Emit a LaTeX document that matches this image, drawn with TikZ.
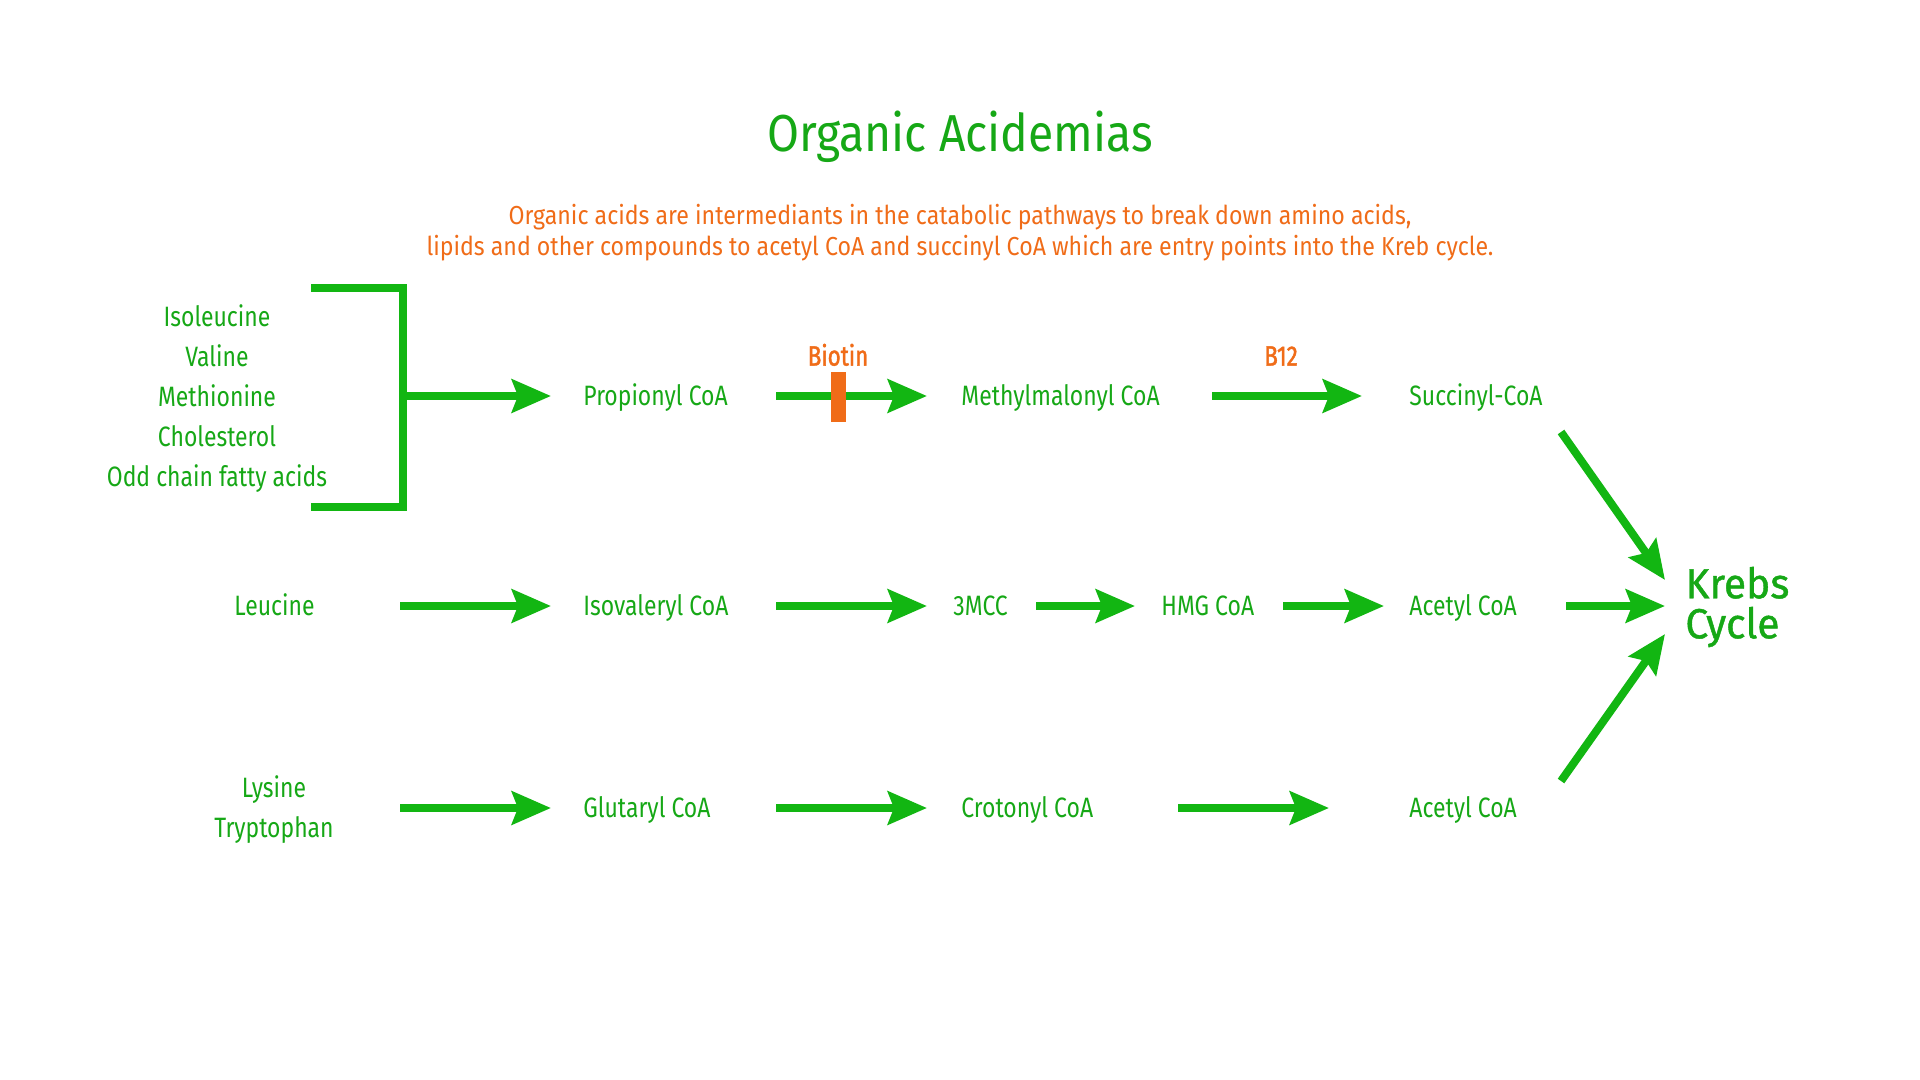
\documentclass[tikz,border=0pt]{standalone}
\usepackage{fontspec}
\setmainfont{Fira Sans}[FakeStretch=0.82]
\newfontfamily\headfont{Fira Sans}[FakeStretch=0.89]
\newfontfamily\krebsfont{Fira Sans}[FakeStretch=0.97,FakeBold=1]
\newfontfamily\vitfont{Fira Sans}[FakeStretch=0.8,FakeBold=1.5]
\usetikzlibrary{arrows.meta}
\definecolor{agreen}{RGB}{18,182,18}
\definecolor{tgreen}{RGB}{22,168,22}
\definecolor{aorange}{RGB}{240,108,24}
\begin{document}
\begin{tikzpicture}[x=0.5pt,y=-0.5pt,
  lbl/.style={font=\fontsize{14}{20}\selectfont, text=tgreen, inner sep=0pt, anchor=west, text height=9.6pt, text depth=0pt},
  multi/.style={font=\fontsize{14}{20}\selectfont, text=tgreen, inner sep=0pt, align=center},
  olbl/.style={font=\vitfont\fontsize{14}{20}\selectfont, text=aorange, inner sep=0pt, text height=9.6pt, text depth=0pt},
  arr/.style={draw=agreen, line width=4pt, -{Stealth[length=19.5pt,width=16.5pt,inset=3pt]}},
  bracketline/.style={draw=agreen, line width=4pt, miter limit=10},
]
\fill[white] (0,0) rectangle (1920,1080);
\useasboundingbox (0,0) rectangle (1920,1080);

% title and subtitle
\node[font=\headfont\fontsize{26}{30}\selectfont, text=tgreen, inner sep=0pt, text height=17.9pt, text depth=0pt] (title) at (960,134) {Organic Acidemias};
\node[font=\headfont\fontsize{13}{15.5}\selectfont, text=aorange, inner sep=0pt, align=center, anchor=base] (sub) at (960,256)
  {Organic acids are intermediants in the catabolic pathways to break down amino acids,\\
   lipids and other compounds to acetyl CoA and succinyl CoA which are entry points into the Kreb cycle.};

% sources
\node[multi] (src) at (217,399) {Isoleucine\\Valine\\Methionine\\Cholesterol\\Odd chain fatty acids};
\draw[bracketline] (311,288) -- (403,288) -- (403,507) -- (311,507);
\coordinate (bmid) at (403,396);

% row 1
\node[lbl] (prop) at (583,396) {Propionyl CoA};
\node[lbl] (methyl) at (961,396) {Methylmalonyl CoA};
\node[lbl] (succ) at (1409,396) {Succinyl-CoA};
\node[olbl] (biotin) at (838,356) {Biotin};
\node[olbl] (b12) at (1281,356) {B12};

% row 2
\node[lbl] (leu) at (234,606) {Leucine};
\node[lbl] (iso) at (583,606) {Isovaleryl CoA};
\node[lbl] (mcc) at (953,606) {3MCC};
\node[lbl] (hmg) at (1161,606) {HMG CoA};
\node[lbl] (acet1) at (1409,606) {Acetyl CoA};

% row 3
\node[multi] (lystry) at (274,810) {Lysine\\Tryptophan};
\node[lbl] (glut) at (583,808) {Glutaryl CoA};
\node[lbl] (crot) at (961,808) {Crotonyl CoA};
\node[lbl] (acet2) at (1409,808) {Acetyl CoA};

% Krebs
\node[font=\krebsfont\fontsize{21}{20}\selectfont, text=tgreen, inner sep=0pt, align=left, anchor=west] (krebs) at (1685,607) {Krebs\\Cycle};

% arrows row 1
\draw[arr] (bmid) -- ([xshift=-16pt]prop.west);
\draw[arr] ([xshift=96.5pt]prop.west) -- ([xshift=-17pt]methyl.west);
\node[fill=aorange, inner sep=0pt, minimum width=7.5pt, minimum height=25pt] (block) at (838,397) {};
\draw[arr] ([xshift=125.5pt]methyl.west) -- ([xshift=-23.5pt]succ.west);

% arrows row 2
\draw[arr] ([xshift=83pt]leu.west) -- ([xshift=-16pt]iso.west);
\draw[arr] ([xshift=96.5pt]iso.west) -- ([xshift=-13pt]mcc.west);
\draw[arr] ([xshift=41.5pt]mcc.west) -- ([xshift=-13pt]hmg.west);
\draw[arr] ([xshift=61pt]hmg.west) -- ([xshift=-12.5pt]acet1.west);
\draw[arr] ([xshift=78.5pt]acet1.west) -- ([shift={(-20,-1)}]krebs.west);

% arrows row 3
\draw[arr] ([shift={(126,-2)}]lystry.center) -- ([xshift=-16pt]glut.west);
\draw[arr] ([xshift=96.5pt]glut.west) -- ([xshift=-17pt]crot.west);
\draw[arr] ([xshift=108.5pt]crot.west) -- ([xshift=-40pt]acet2.west);

% diagonal arrows
\draw[arr] ([shift={(152,36)}]succ.west) -- ([shift={(-20,-27)}]krebs.west);
\draw[arr] ([shift={(152,-27)}]acet2.west) -- ([shift={(-20,27)}]krebs.west);
\end{tikzpicture}
\end{document}
